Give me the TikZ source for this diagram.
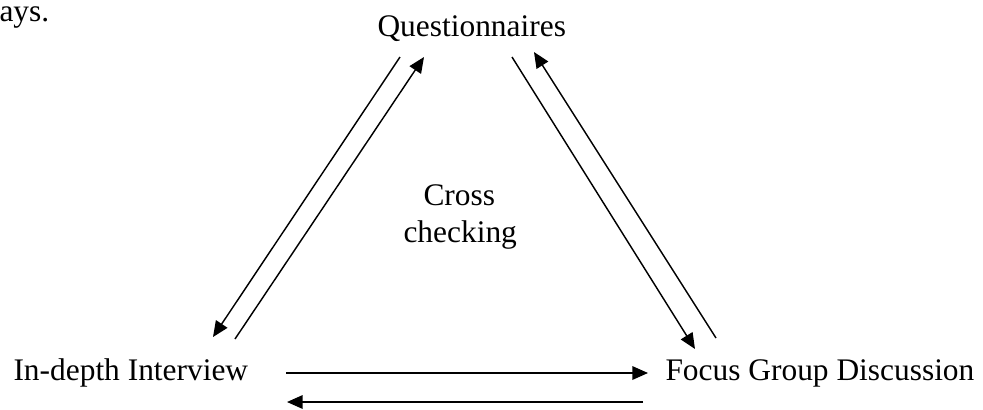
\documentclass[tikz,border=0pt]{standalone}
\usepackage{fontspec}
\setmainfont{Liberation Serif}
\usetikzlibrary{arrows.meta}

\tikzset{
  lbl/.style={inner sep=0pt, anchor=base west, font=\fontsize{12}{14}\selectfont},
  arr/.style={-{Triangle[length=6pt, width=5.2pt]}, line width=0.55pt, black}
}

\begin{document}
\begin{tikzpicture}[x=0.382pt, y=-0.382pt]

\useasboundingbox (0,0) rectangle (983,409);

\node [lbl] (ays) at (-1,21) {ays.};
\node [lbl] (quest) at (377,36) {Questionnaires};
\node [lbl] (cross) at (423,205) {Cross};
\node [lbl] (check) at (403,242) {checking};
\node [lbl] (idi) at (13,380) {In-depth Interview};
\node [lbl] (fgd) at (665,380) {Focus Group Discussion};

% end points of the arrows
\coordinate (qa) at (400,57);
\coordinate (qb) at (424,57);
\coordinate (qc) at (512,57);
\coordinate (qd) at (534,52);
\coordinate (ia) at (213,337);
\coordinate (ib) at (235,339);
\coordinate (ic) at (286,373);
\coordinate (id) at (287,402);
\coordinate (fa) at (695,349);
\coordinate (fb) at (716,338);
\coordinate (fc) at (648,373);
\coordinate (fd) at (643,402);

\draw [arr] (qa) -- (ia);
\draw [arr] (ib) -- (qb);
\draw [arr] (qc) -- (fa);
\draw [arr] (fb) -- (qd);
\draw [arr] (ic) -- (fc);
\draw [arr] (fd) -- (id);

\end{tikzpicture}
\end{document}
